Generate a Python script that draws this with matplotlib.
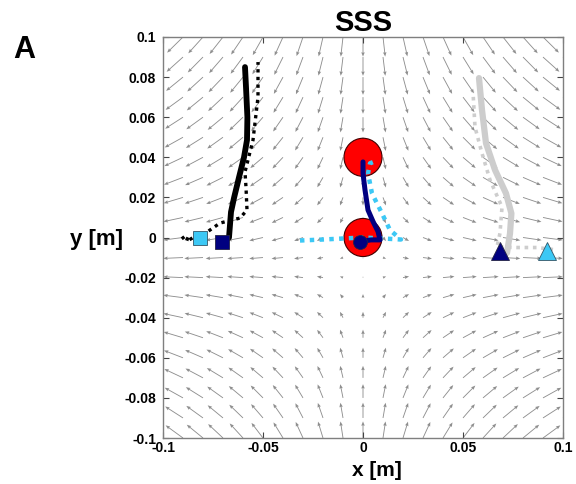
import numpy as np
import matplotlib
matplotlib.use("Agg")
import matplotlib.pyplot as plt
from matplotlib.patches import Circle

plt.rcParams["font.family"] = ["Liberation Sans", "DejaVu Sans"]

# ── force field (gains) ─────────────────────────────────────────────────────
GRID = np.round(np.arange(-0.1, 0.1001, 0.01), 3)
FIELD_GAIN_X = 1.3
FIELD_GAIN_Y = 1.0
FIELD_Y0 = -0.015          # row where vertical push vanishes
ARROW_MAX = 0.012          # longest arrow, m
ARROW_SAT = 0.1

# ── targets ─────────────────────────────────────────────────────────────────
TARGET_X = [0.0, 0.0]
TARGET_Y = [0.04, 0.0]
TARGET_R = 0.0095

# ── trajectories ────────────────────────────────────────────────────────────
left_solid_x = [-0.0705, -0.067, -0.066, -0.0645, -0.062, -0.0595, -0.058, -0.0578, -0.0585, -0.059]
left_solid_y = [-0.002, 0.0, 0.0127, 0.0197, 0.030, 0.040, 0.0486, 0.060, 0.075, 0.085]

left_dot_x = [-0.0905, -0.0885, -0.087, -0.0855, -0.0815, -0.078, -0.0715, -0.0615, -0.058,
              -0.0585, -0.059, -0.055, -0.0525, -0.0525]
left_dot_y = [0.0005, -0.002, 0.001, -0.0015, 0.0, 0.0027, 0.0072, 0.0097, 0.0137,
              0.025, 0.0327, 0.0486, 0.070, 0.0875]

mid_solid_x = [-0.0015, 0.004, 0.0085, 0.0075, 0.005, 0.0025, 0.001, 0.0, 0.0]
mid_solid_y = [-0.002, -0.0012, -0.0012, 0.003, 0.008, 0.0137, 0.0237, 0.032, 0.0377]

mid_dot_x = [-0.0315, -0.02, -0.01, 0.0, 0.01, 0.019, 0.0135, 0.0095, 0.0045, 0.0025, 0.0035, 0.006]
mid_dot_y = [-0.0015, -0.001, -0.0005, 0.0, -0.0005, -0.001, 0.0037, 0.012, 0.022, 0.032, 0.037, 0.038]

right_solid_x = [0.072, 0.0735, 0.0742, 0.0715, 0.066, 0.0615, 0.0595, 0.058]
right_solid_y = [-0.0077, 0.002, 0.012, 0.022, 0.0337, 0.047, 0.0636, 0.0795]

right_dot_x = [0.095, 0.087, 0.077, 0.067, 0.0685, 0.0695, 0.0635, 0.0595, 0.056, 0.055]
right_dot_y = [-0.006, -0.005, -0.005, -0.0047, 0.0022, 0.0152, 0.0287, 0.042, 0.055, 0.0726]

# start markers
sq_x = [-0.0705, -0.0815]
sq_y = [-0.002, 0.0]
tri_x = [0.0685, 0.092]
tri_y = [-0.0065, -0.0065]
dot_x = [-0.0015]
dot_y = [-0.002]

NAVY = "#000080"
CYAN = "#3cc8f5"
GREY = "#cdcdcd"

fig = plt.figure(figsize=(5.76, 4.84), dpi=100)
ax = fig.add_axes([163 / 576, 1 - 438 / 484, 400 / 576, 401 / 484])

# quiver field
X, Y = np.meshgrid(GRID, GRID)
U0 = FIELD_GAIN_X * X
V0 = -FIELD_GAIN_Y * (Y - FIELD_Y0)
mag = np.hypot(U0, V0)
mag[mag == 0] = 1e-9
L = ARROW_MAX * np.tanh(mag / ARROW_SAT)
ax.quiver(X, Y, U0 / mag * L, V0 / mag * L, angles="xy", scale_units="xy", scale=1,
          color="#8e8e8e", width=0.0022, headwidth=4, headlength=5,
          headaxislength=4.5, zorder=1)

# targets
for tx, ty in zip(TARGET_X, TARGET_Y):
    ax.add_patch(Circle((tx, ty), TARGET_R, facecolor="#ff0000",
                        edgecolor="#400000", lw=0.8, zorder=2))

# trajectories
ax.plot(left_dot_x, left_dot_y, color="black", lw=2.4, ls=(0, (1, 1.3)), zorder=3)
ax.plot(left_solid_x, left_solid_y, color="black", lw=4.2, solid_capstyle="round", zorder=3)
ax.plot(right_dot_x, right_dot_y, color=GREY, lw=2.6, ls=(0, (1, 1.3)), zorder=3)
ax.plot(right_solid_x, right_solid_y, color=GREY, lw=4.5, solid_capstyle="round", zorder=3)
ax.plot(mid_dot_x, mid_dot_y, color=CYAN, lw=3.2, ls=(0, (1, 1.2)), zorder=4)
ax.plot(mid_solid_x, mid_solid_y, color=NAVY, lw=3.6, solid_capstyle="round", zorder=4)

# start markers
ax.plot(sq_x[0], sq_y[0], "s", ms=10.5, mfc=NAVY, mec="#222244", mew=0.6, zorder=5)
ax.plot(sq_x[1], sq_y[1], "s", ms=10.5, mfc=CYAN, mec="#335566", mew=0.6, zorder=5)
ax.plot(tri_x[0], tri_y[0], "^", ms=13, mfc=NAVY, mec="#222244", mew=0.6, zorder=5)
ax.plot(tri_x[1], tri_y[1], "^", ms=13, mfc=CYAN, mec="#335566", mew=0.6, zorder=5)
ax.plot(dot_x, dot_y, "o", ms=10, mfc=NAVY, mec="#222244", mew=0.6, zorder=5)

ax.set_xlim(-0.1, 0.1)
ax.set_ylim(-0.1, 0.1)
xt = [-0.1, -0.05, 0, 0.05, 0.1]
yt = [-0.1, -0.08, -0.06, -0.04, -0.02, 0, 0.02, 0.04, 0.06, 0.08, 0.1]
ax.set_xticks(xt)
ax.set_xticklabels(["-0.1", "-0.05", "0", "0.05", "0.1"])
ax.set_yticks(yt)
ax.set_yticklabels(["-0.1", "-0.08", "-0.06", "-0.04", "-0.02", "0",
                    "0.02", "0.04", "0.06", "0.08", "0.1"])
ax.tick_params(direction="in", top=True, right=True, length=4, width=0.8,
               color="#444444", labelsize=10)
ax.tick_params(axis="y", pad=5)
ax.tick_params(axis="x", pad=2)
for lab in ax.get_xticklabels() + ax.get_yticklabels():
    lab.set_fontweight("bold")
for sp in ax.spines.values():
    sp.set_color("#7f7f7f")
    sp.set_linewidth(1.0)

ax.set_xlabel("x [m]", fontsize=15, fontweight="bold", va="center")
ax.xaxis.set_label_coords(0.535, -0.08)
ax.set_ylabel("y [m]", fontsize=16, fontweight="bold", rotation=0,
              ha="center", va="center")
ax.yaxis.set_label_coords(-0.165, 0.494)
ax.set_title("SSS", fontsize=21, fontweight="bold", pad=4)
fig.text(24 / 576, 1 - 50 / 484, "A", fontsize=22, fontweight="bold",
         ha="center", va="center")

fig.savefig("out.png", dpi=100)
